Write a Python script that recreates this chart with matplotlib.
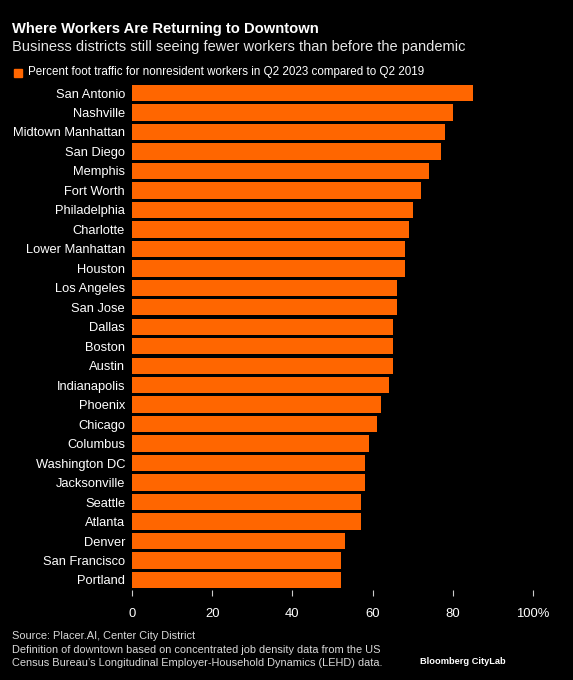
import numpy as np
import matplotlib.pyplot as plt

plt.rcParams['font.family'] = ['Liberation Sans', 'DejaVu Sans']

# data
cities = ['San Antonio', 'Nashville', 'Midtown Manhattan', 'San Diego', 'Memphis',
          'Fort Worth', 'Philadelphia', 'Charlotte', 'Lower Manhattan', 'Houston',
          'Los Angeles', 'San Jose', 'Dallas', 'Boston', 'Austin', 'Indianapolis',
          'Phoenix', 'Chicago', 'Columbus', 'Washington DC', 'Jacksonville',
          'Seattle', 'Atlanta', 'Denver', 'San Francisco', 'Portland']
pct = [85, 80, 78, 77, 74, 72, 70, 69, 68, 68, 66, 66, 65, 65, 65, 64,
       62, 61, 59, 58, 58, 57, 57, 53, 52, 52]
xticks = [0, 20, 40, 60, 80, 100]
xticklabels = ['0', '20', '40', '60', '80', '100%']

orange = '#ff6600'
bg = '#000000'

fig = plt.figure(figsize=(5.73, 6.80), dpi=100, facecolor=bg)
ax = fig.add_axes([0.2304, 0.1328, 0.6998, 0.7447], facecolor=bg)

y = np.arange(len(cities))
ax.barh(y, pct, height=0.84, color=orange)
ax.set_ylim(len(cities) - 0.5, -0.5)
ax.set_xlim(0, 100)

ax.set_yticks(y)
ax.set_yticklabels(cities, fontsize=9.25, color='white')
ax.tick_params(axis='y', length=0, pad=5)
ax.set_xticks(xticks)
ax.set_xticklabels(xticklabels, fontsize=9.4, color='white')
ax.tick_params(axis='x', length=4, width=0.8, color='#cccccc', pad=9, direction='out')
for s in ax.spines.values():
    s.set_visible(False)

# headings
fig.text(12/573, 1 - 33/680, 'Where Workers Are Returning to Downtown',
         fontsize=10.6, fontweight='bold', color='white', va='baseline')
fig.text(12/573, 1 - 51/680, 'Business districts still seeing fewer workers than before the pandemic',
         fontsize=10.5, color='#e6e6e6', va='baseline')

# legend
fig.patches.append(plt.Rectangle((14/573, 1 - 77/680), 8/573, 8.5/680,
                                 transform=fig.transFigure, color=orange))
fig.text(28/573, 1 - 72.5/680,
         'Percent foot traffic for nonresident workers in Q2 2023 compared to Q2 2019',
         fontsize=8.4, color='white', va='center')

# footer
fig.text(12/573, 1 - 636/680, 'Source: Placer.AI, Center City District',
         fontsize=7.9, color='#d9d9d9', va='center')
fig.text(12/573, 1 - 650/680,
         'Definition of downtown based on concentrated job density data from the US',
         fontsize=7.9, color='#d9d9d9', va='center')
fig.text(12/573, 1 - 663/680,
         "Census Bureau\u2019s Longitudinal Employer-Household Dynamics (LEHD) data.",
         fontsize=7.9, color='#d9d9d9', va='center')
fig.text(506/573, 1 - 661/680, 'Bloomberg CityLab', fontsize=6.7, fontweight='bold',
         color='white', ha='right', va='center')

fig.savefig('out.png', dpi=100, facecolor=bg)
